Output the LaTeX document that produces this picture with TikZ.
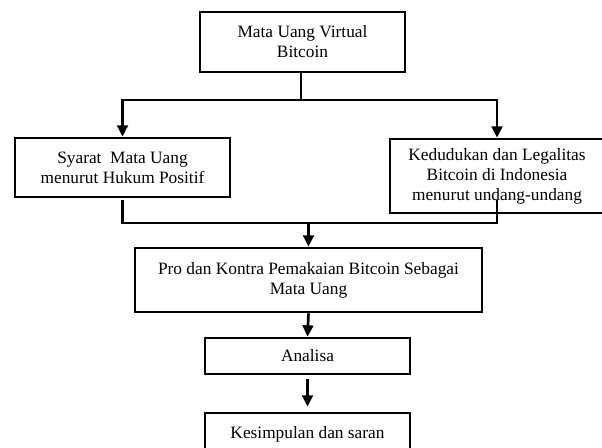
\documentclass[tikz,border=0pt]{standalone}
\usepackage{fontspec}
\setmainfont{Liberation Serif}
\usetikzlibrary{arrows.meta,calc,positioning}

\begin{document}
\begin{tikzpicture}[x=0.75pt,y=-0.75pt,%
box/.style = {draw, line width=2pt, rectangle, align=center, inner sep=0pt,
  font=\fontsize{13}{15}\selectfont},
line/.style = {line width=2pt},
arr/.style = {line width=2pt, -{Triangle[length=8.5pt,width=8pt]}}]
\useasboundingbox (0,0) rectangle (602,447);

\node[box, minimum width=153.75pt, minimum height=45pt] (vb) at (302.5,42) {Mata Uang Virtual\\Bitcoin};
\node[box, minimum width=161.25pt, minimum height=44.25pt] (syarat) at (122.5,167.5) {Syarat~ Mata Uang\\menurut Hukum Positif};
\node[box, minimum width=160.5pt, minimum height=55.5pt] (legal) at (497,176) {Kedudukan dan Legalitas\\Bitcoin di Indonesia\\menurut undang-undang};
\node[box, minimum width=260.25pt, minimum height=48pt] (prokon) at (308.5,280) {Pro dan Kontra Pemakaian Bitcoin Sebagai\\Mata Uang};
\node[box, minimum width=153.75pt, minimum height=27pt] (anl) at (307.5,356) {Analisa};
\node[box, minimum width=153.75pt, minimum height=31.5pt] (kes) at (307.5,434) {Kesimpulan dan saran};

\coordinate (split) at (301,100);
\coordinate (join) at (308.5,223);
\coordinate (ltop) at (122.5,200);
\coordinate (rtop) at (497,200);

\draw[line] (vb.south -| split) -- (split);
\draw[arr] (split) -| (syarat.north);
\draw[arr] (split) -| (legal.north);

\draw[line] (ltop) |- (join) -| (rtop);
\draw[arr] (join) -- (prokon.north);
\draw[arr] (prokon.south) -- (anl.north);
\draw[arr, shorten <=3pt, shorten >=3.75pt] (anl.south) -- (kes.north);
\end{tikzpicture}
\end{document}
